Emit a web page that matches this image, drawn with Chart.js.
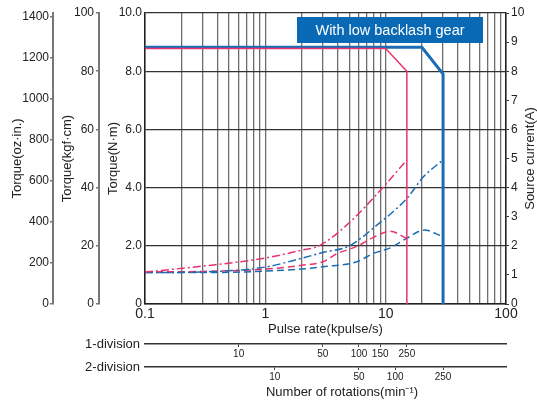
<!DOCTYPE html>
<html>
<head>
<meta charset="utf-8">
<script src="https://cdn.jsdelivr.net/npm/chart.js@4.4.1/dist/chart.umd.min.js"></script>
<style>
html,body{margin:0;padding:0;background:#fff;}
#wrap{width:537px;height:400px;position:relative;}
</style>
</head>
<body>
<div id="wrap"><canvas id="c" width="537" height="400"></canvas></div>
<script>
const FONT = "'Liberation Sans', Arial, Helvetica, sans-serif";
const NARROW = "'Liberation Sans Narrow', 'Liberation Sans', Arial, sans-serif";

// ---- axis ticks ----
const pulseTicks = [0.1,0.2,0.3,0.4,0.5,0.6,0.7,0.8,0.9,1,2,3,4,5,6,7,8,9,10,20,30,40,50,60,70,80,90,100];
const pulseDecades = [0.1, 1, 10, 100];
const pulseLabels = ['0.1', '1', '10', '100'];
const torqueNmTicks = [0, 2, 4, 6, 8, 10];
const torqueKgfTicks = [0, 20, 40, 60, 80, 100];
const torqueOzTicks = [0, 200, 400, 600, 800, 1000, 1200, 1400];
const currentTicks = [0, 1, 2, 3, 4, 5, 6, 7, 8, 9, 10];
const rot1Ticks = [10, 50, 100, 150, 250];
const rot2Ticks = [10, 50, 100, 250];
// r/min per kpulse/s for each step division
const rot1PerKpps = 50 / 3;
const rot2PerKpps = 25 / 3;
const ozMax = 1416;

// ---- pulse-out torque (N·m) ----
const redTorqueX  = [0.1, 10, 15, 15];
const redTorqueY  = [8.78, 8.78, 8.0, 0];
const blueTorqueX = [0.1, 20, 30, 30];
const blueTorqueY = [8.82, 8.82, 7.9, 0];

// ---- source current (A) ----
const redDashDotX  = [0.1, 0.3, 1, 2, 2.8, 5, 9, 15];
const redDashDotY  = [1.1, 1.3, 1.58, 1.85, 2.0, 2.8, 3.9, 4.95];
const blueDashDotX = [0.1, 0.3, 1, 2, 3, 5, 8.4, 15, 20.6, 30];
const blueDashDotY = [1.08, 1.1, 1.27, 1.57, 1.77, 2.0, 2.7, 3.63, 4.37, 4.95];
const redDashX     = [0.1, 0.3, 1, 2, 3, 3.9, 5.75, 8, 10.9, 15];
const redDashY     = [1.1, 1.12, 1.2, 1.33, 1.45, 1.72, 1.98, 2.3, 2.5, 2.25];
const blueDashX    = [0.1, 0.3, 1, 2, 3, 5.75, 7.9, 10.9, 15, 21, 30];
const blueDashY    = [1.08, 1.08, 1.13, 1.2, 1.28, 1.45, 1.74, 1.93, 2.26, 2.54, 2.31];

const RED = '#e8336f';
const BLUE = '#1a6cb5';
const TXT = '#222';

function pts(xs, ys){ return xs.map((x,i)=>({x:x, y:ys[i]})); }
function setTicks(list){ return s => { s.ticks = list.map(v=>({value:v})); }; }

const annot = {
  id: 'annot',
  afterDatasetsDraw(chart){
    const ctx = chart.ctx, ca = chart.chartArea;
    ctx.save();
    const bx = ca.left + 152, by = ca.top + 4, bw = 186, bh = 26;
    ctx.fillStyle = '#0a69b4';
    ctx.fillRect(bx, by, bw, bh);
    ctx.fillStyle = '#fff';
    ctx.font = '14.5px ' + FONT;
    ctx.textAlign = 'center';
    ctx.textBaseline = 'middle';
    ctx.fillText('With low backlash gear', bx + bw/2, by + bh/2 + 1);
    ctx.restore();
  },
  afterDraw(chart){
    const ctx = chart.ctx, ca = chart.chartArea;
    const r1 = chart.scales.rot1, r2 = chart.scales.rot2;
    ctx.save();
    ctx.fillStyle = TXT;
    ctx.font = '13px ' + FONT;
    ctx.textAlign = 'right';
    ctx.textBaseline = 'middle';
    ctx.fillText('1-division', ca.left - 5, r1.top);
    ctx.fillText('2-division', ca.left - 5, r2.top);
    ctx.textAlign = 'center';
    ctx.fillText('Number of rotations(min\u207B\u00B9)', 342, r2.bottom - 8);
    ctx.translate(530, (ca.top + ca.bottom) / 2);
    ctx.rotate(-Math.PI / 2);
    ctx.fillText('Source current(A)', 0, 0);
    ctx.restore();
  }
};

const tickFont = {size: 12, family: FONT};
const titleFont = {size: 13, family: FONT};

new Chart(document.getElementById('c'), {
  type: 'line',
  data: {
    datasets: [
      {data: pts(redTorqueX, redTorqueY), borderColor: RED, borderWidth: 1.5, tension: 0, xAxisID: 'x', yAxisID: 'yNm'},
      {data: pts(blueTorqueX, blueTorqueY), borderColor: BLUE, borderWidth: 3, tension: 0, xAxisID: 'x', yAxisID: 'yNm'},
      {data: pts(redDashDotX, redDashDotY), borderColor: RED, borderWidth: 1.5, borderDash: [8,3,2,3], cubicInterpolationMode: 'monotone', xAxisID: 'x', yAxisID: 'yA'},
      {data: pts(blueDashDotX, blueDashDotY), borderColor: BLUE, borderWidth: 1.5, borderDash: [8,3,2,3], cubicInterpolationMode: 'monotone', xAxisID: 'x', yAxisID: 'yA'},
      {data: pts(redDashX, redDashY), borderColor: RED, borderWidth: 1.5, borderDash: [7,4], cubicInterpolationMode: 'monotone', xAxisID: 'x', yAxisID: 'yA'},
      {data: pts(blueDashX, blueDashY), borderColor: BLUE, borderWidth: 1.5, borderDash: [7,4], cubicInterpolationMode: 'monotone', xAxisID: 'x', yAxisID: 'yA'}
    ]
  },
  options: {
    responsive: false,
    animation: false,
    devicePixelRatio: 1,
    layout: {padding: {top: 13, left: 0, right: 0, bottom: 0}},
    elements: {point: {radius: 0}, line: {fill: false}},
    plugins: {legend: {display: false}, tooltip: {enabled: false}},
    scales: {
      x: {
        type: 'logarithmic', position: 'bottom', weight: 1, min: 0.1, max: 100,
        afterBuildTicks: setTicks(pulseTicks),
        afterFit: s => { s.height = 40; },
        ticks: {autoSkip: false, maxRotation: 0, minRotation: 0, padding: 2, color: TXT, font: {size: 14, family: FONT},
          callback: v => { const i = pulseDecades.findIndex(d => Math.abs(d - v) < 1e-9); return i >= 0 ? pulseLabels[i] : ''; }},
        grid: {color: '#6e6e6e', lineWidth: 1.3, drawTicks: false},
        border: {color: '#222', width: 1.5},
        title: {display: true, text: 'Pulse rate(kpulse/s)', color: TXT, font: titleFont, padding: {top: 0, bottom: 7}}
      },
      rot1: {
        type: 'logarithmic', position: 'bottom', weight: 2, min: 0.1 * rot1PerKpps, max: 100 * rot1PerKpps,
        afterBuildTicks: setTicks(rot1Ticks),
        afterFit: s => { s.height = 23; },
        ticks: {autoSkip: false, maxRotation: 0, minRotation: 0, padding: 1, color: TXT, font: {size: 10, family: NARROW}, callback: v => String(v)},
        grid: {drawOnChartArea: false, drawTicks: true, tickLength: 3, color: '#444', lineWidth: 1},
        border: {color: '#333', width: 1.5}
      },
      rot2: {
        type: 'logarithmic', position: 'bottom', weight: 3, min: 0.1 * rot2PerKpps, max: 100 * rot2PerKpps,
        afterBuildTicks: setTicks(rot2Ticks),
        afterFit: s => { s.height = 33; },
        ticks: {autoSkip: false, maxRotation: 0, minRotation: 0, padding: 1, color: TXT, font: {size: 10, family: NARROW}, callback: v => String(v)},
        grid: {drawOnChartArea: false, drawTicks: true, tickLength: 3, color: '#444', lineWidth: 1},
        border: {color: '#333', width: 1.5}
      },
      yNm: {
        type: 'linear', position: 'left', weight: 1, min: 0, max: 10,
        afterBuildTicks: setTicks(torqueNmTicks),
        afterFit: s => { s.width = 46; },
        ticks: {padding: 3, color: TXT, font: tickFont, callback: v => v === 0 ? '0' : v.toFixed(1)},
        grid: {color: '#333', lineWidth: 1.3, drawTicks: false},
        border: {color: '#222', width: 1.5},
        title: {display: true, text: 'Torque(N\u00B7m)', color: TXT, font: titleFont, padding: {top: 7, bottom: 0}}
      },
      yKgf: {
        type: 'linear', position: 'left', weight: 2, min: 0, max: 100,
        afterBuildTicks: setTicks(torqueKgfTicks),
        afterFit: s => { s.width = 46; },
        ticks: {padding: 2, color: TXT, font: tickFont, callback: v => String(v)},
        grid: {drawOnChartArea: false, drawTicks: true, tickLength: 3, color: '#777', lineWidth: 1.5},
        border: {color: '#777', width: 2},
        title: {display: true, text: 'Torque(kgf\u00B7cm)', color: TXT, font: titleFont, padding: {top: 7, bottom: 0}}
      },
      yOz: {
        type: 'linear', position: 'left', weight: 3, min: 0, max: ozMax,
        afterBuildTicks: setTicks(torqueOzTicks),
        afterFit: s => { s.width = 53; },
        ticks: {padding: 1, color: TXT, font: tickFont, callback: v => String(v)},
        grid: {drawOnChartArea: false, drawTicks: true, tickLength: 3, color: '#777', lineWidth: 1.5},
        border: {color: '#777', width: 2},
        title: {display: true, text: 'Torque(oz\u00B7in.)', color: TXT, font: titleFont, padding: {top: 10, bottom: 0}}
      },
      yA: {
        type: 'linear', position: 'right', min: 0, max: 10,
        afterBuildTicks: setTicks(currentTicks),
        afterFit: s => { s.width = 31; },
        ticks: {padding: 2, color: TXT, font: tickFont, callback: v => String(v)},
        grid: {drawOnChartArea: false, drawTicks: true, tickLength: 3, color: '#333', lineWidth: 1},
        border: {color: '#222', width: 1.5}
      }
    }
  },
  plugins: [annot]
});
</script>
</body>
</html>
